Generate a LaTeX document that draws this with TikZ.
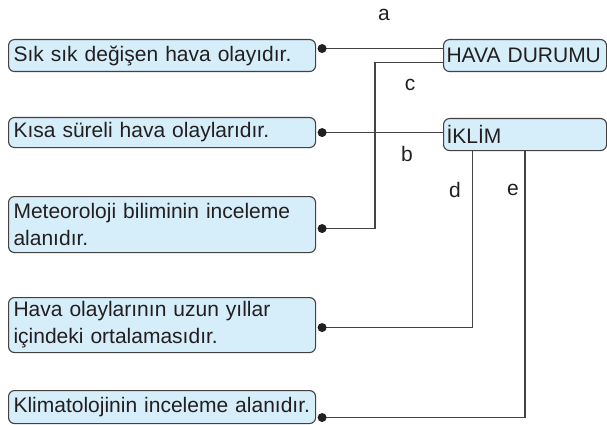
\documentclass[tikz,border=0pt]{standalone}
\usepackage{fontspec}
\setmainfont{Liberation Sans}
\definecolor{boxblue}{RGB}{214,237,250}
\definecolor{linegray}{RGB}{68,68,68}
\definecolor{inkdark}{RGB}{35,31,32}

\begin{document}
\begin{tikzpicture}[x=1pt,y=-1pt,
  every node/.style={font=\fontsize{21}{27}\selectfont, text=inkdark},
  stmt/.style={draw=inkdark!85, fill=boxblue, rounded corners=6pt, line width=1.1pt, anchor=north west,
    text width=297pt, inner xsep=5pt, inner ysep=0pt, minimum height=32pt, align=left},
  concept/.style={stmt, text width=157pt, inner xsep=3pt},
  conn/.style={draw=linegray, line width=1.2pt},
  dot/.style={fill=inkdark}]
\useasboundingbox (0,0) rectangle (607,425);
% statements
\node[stmt] (s1) at (8,39) {Sık sık değişen hava olayıdır.};
\node[stmt, minimum height=30pt] (s2) at (8,117) {Kısa süreli hava olaylarıdır.};
\node[stmt, minimum height=56pt] (s3) at (8,196) {Meteoroloji biliminin inceleme\\alanıdır.};
\node[stmt, minimum height=55pt] (s4) at (8,297) {Hava olaylarının uzun yıllar\\içindeki ortalamasıdır.};
\node[stmt, minimum height=33pt] (s5) at (8,390) {Klimatolojinin inceleme alanıdır.};
% concepts
\node[concept] (hava) at (443,39) {\mbox{HAVA DURUMU}};
\node[concept] (iklim) at (443,118) {İKLİM};
% dots
\coordinate (p1) at ([xshift=6pt,yshift=7pt]s1.east);
\coordinate (p2) at ([xshift=6pt]s2.east);
\coordinate (p3) at ([xshift=6pt,yshift=-4pt]s3.east);
\coordinate (p4) at ([xshift=6pt,yshift=-2.5pt]s4.east);
\coordinate (p5) at ([xshift=6pt,yshift=-10.5pt]s5.east);
\draw[conn] (p1) -- (p1 -| hava.west);
\draw[conn] (p2) -- (p2 -| iklim.west);
\draw[conn] ([yshift=-7pt]hava.west) -- ++(-68,0) |- (p3);
\draw[conn] ([xshift=-52.5pt]iklim.south) |- (p4);
\draw[conn] (iklim.south) |- (p5);
\foreach \p in {p1,p2,p3,p4,p5} \fill[dot] (\p) circle (4.5pt);
% letters
\node (la) at (384,15) {a};
\node (lc) at (410,85) {c};
\node (lb) at (407,154) {b};
\node (ld) at (455,190) {d};
\node (le) at (513,190) {e};
\end{tikzpicture}
\end{document}
